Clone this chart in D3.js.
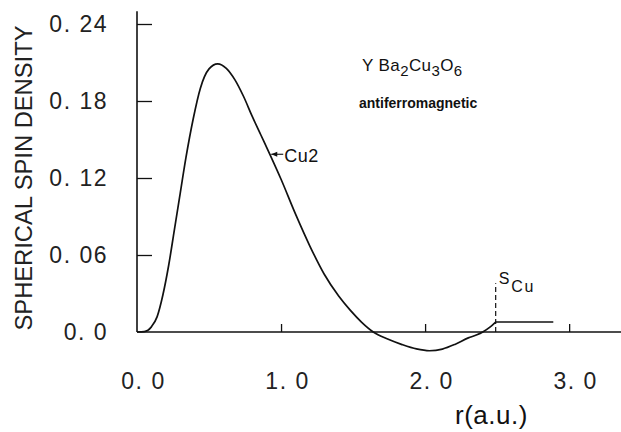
<!DOCTYPE html>
<html>
<head>
<meta charset="utf-8">
<script src="https://cdn.jsdelivr.net/npm/d3@7"></script>
<style>
  html, body { margin: 0; padding: 0; background: #fff; }
  svg { display: block; }
</style>
</head>
<body>
<svg id="chart" width="621" height="432"></svg>
<script>
// Radial distance r (a.u.) and spherical spin density of Cu2
const radius = [0, 0.05, 0.10, 0.14, 0.18, 0.22, 0.26, 0.30, 0.34, 0.39, 0.44, 0.50, 0.56, 0.62, 0.68, 0.74, 0.80, 0.86, 0.92,
                1.00, 1.10, 1.20, 1.30, 1.40, 1.48, 1.56, 1.64, 1.74, 1.84, 1.94, 2.03, 2.12, 2.21, 2.30, 2.36, 2.40, 2.45, 2.49];
const spinDensity = [0, 0.0003, 0.004, 0.012, 0.029, 0.052, 0.080, 0.108, 0.136, 0.166, 0.190, 0.205, 0.209, 0.2055, 0.1965, 0.1835, 0.168, 0.1535, 0.139,
                     0.119, 0.092, 0.067, 0.045, 0.028, 0.017, 0.0075, 0, -0.0055, -0.0098, -0.0132, -0.0146, -0.0133, -0.0095, -0.0046, -0.0022, 0, 0.0038, 0.0078];

// Integrated spin s_Cu: plateau beyond the sphere radius
const sphereRadius = 2.49;
const plateauEnd = 2.89;
const plateauValue = 0.0078;

// Axis ticks
const xTickValues = [0, 1, 2, 3];
const xTickLabels = ["0. 0", "1. 0", "2. 0", "3. 0"];
const yTickValues = [0, 0.06, 0.12, 0.18, 0.24];
const yTickLabels = ["0. 0", "0. 06", "0. 12", "0. 18", "0. 24"];

const svg = d3.select("#chart");
const ink = "#111";

const x = d3.scaleLinear().domain([0, 3.36]).range([137, 621]);
const y = d3.scaleLinear().domain([0, 0.24]).range([332, 24]);

// Axis lines
svg.append("line")
  .attr("x1", x(0)).attr("x2", x(0))
  .attr("y1", y(0)).attr("y2", y(0.25))
  .attr("stroke", ink).attr("stroke-width", 1.6);
svg.append("line")
  .attr("x1", x(0)).attr("x2", x(3.36))
  .attr("y1", y(0)).attr("y2", y(0))
  .attr("stroke", ink).attr("stroke-width", 1.4);

// Y axis: inward ticks, labels to the left
const yAxis = d3.axisLeft(y)
  .tickValues(yTickValues)
  .tickFormat((d, i) => yTickLabels[i])
  .tickSizeInner(-15).tickSizeOuter(0).tickPadding(29);
const gy = svg.append("g").attr("transform", `translate(${x(0)},0)`).call(yAxis);
gy.select(".domain").remove();
gy.selectAll(".tick").filter(d => d === 0).select("line").remove();
gy.selectAll(".tick line").attr("stroke", ink).attr("stroke-width", 1.3);
gy.selectAll(".tick text")
  .attr("fill", "#222")
  .style("font-family", "'Liberation Sans', Arial, sans-serif")
  .style("font-size", "23px")
  .style("letter-spacing", "1.5px");

// X axis: short upward ticks, labels below
const xAxis = d3.axisBottom(x)
  .tickValues(xTickValues)
  .tickFormat((d, i) => xTickLabels[i])
  .tickSizeInner(-8).tickSizeOuter(0).tickPadding(41);
const gx = svg.append("g").attr("transform", `translate(0,${y(0)})`).call(xAxis);
gx.select(".domain").remove();
gx.selectAll(".tick").filter(d => d === 0).select("line").remove();
gx.selectAll(".tick line").attr("stroke", ink).attr("stroke-width", 1.3);
gx.selectAll(".tick text")
  .attr("dx", 6)
  .attr("fill", "#222")
  .style("font-family", "'Liberation Sans', Arial, sans-serif")
  .style("font-size", "23px")
  .style("letter-spacing", "1.5px");

// Axis titles
svg.append("text")
  .attr("transform", `translate(32,178) rotate(-90)`)
  .attr("text-anchor", "middle")
  .attr("textLength", 305)
  .attr("lengthAdjust", "spacingAndGlyphs")
  .attr("fill", "#222")
  .style("font-family", "'Liberation Sans', Arial, sans-serif")
  .style("font-size", "23px")
  .text("SPHERICAL SPIN DENSITY");

svg.append("text")
  .attr("x", 455).attr("y", 424)
  .attr("fill", ink)
  .style("font-family", "'Liberation Sans', Arial, sans-serif")
  .style("font-size", "26px")
  .style("letter-spacing", "0.5px")
  .text("r(a.u.)");

// Spin density curve
const pts = radius.map((r, i) => [r, spinDensity[i]]);
const line = d3.line()
  .x(d => x(d[0]))
  .y(d => y(d[1]))
  .curve(d3.curveMonotoneX);
svg.append("path")
  .datum(pts)
  .attr("d", line)
  .attr("fill", "none")
  .attr("stroke", ink)
  .attr("stroke-width", 1.7);

// s_Cu plateau and dashed sphere boundary
svg.append("line")
  .attr("x1", x(sphereRadius)).attr("x2", x(plateauEnd))
  .attr("y1", y(plateauValue)).attr("y2", y(plateauValue))
  .attr("stroke", ink).attr("stroke-width", 1.3);
svg.append("line")
  .attr("x1", x(sphereRadius)).attr("x2", x(sphereRadius))
  .attr("y1", y(0)).attr("y2", y(0.038))
  .attr("stroke", ink).attr("stroke-width", 1.2)
  .attr("stroke-dasharray", "5,3");

const sLabel = svg.append("text")
  .attr("x", x(sphereRadius) + 3).attr("y", 284)
  .attr("fill", ink)
  .style("font-family", "'Liberation Sans', Arial, sans-serif")
  .style("font-size", "16px");
sLabel.append("tspan").text("S");
sLabel.append("tspan").attr("dx", 2).attr("dy", 8)
  .style("font-size", "16px").style("letter-spacing", "1.5px").text("Cu");

// Cu2 annotation with arrow
const tip = [0.925, 0.1385];
svg.append("line")
  .attr("x1", x(tip[0]) + 1).attr("x2", x(tip[0]) + 13)
  .attr("y1", y(tip[1])).attr("y2", y(tip[1]))
  .attr("stroke", ink).attr("stroke-width", 1.1);
svg.append("path")
  .attr("d", `M${x(tip[0]) + 1},${y(tip[1])} l6,-2.5 l0,5 z`)
  .attr("fill", ink);
svg.append("text")
  .attr("x", x(tip[0]) + 14).attr("y", y(tip[1]) + 8)
  .attr("fill", ink)
  .style("font-family", "'Liberation Sans', Arial, sans-serif")
  .style("font-size", "18px")
  .style("letter-spacing", "0.5px")
  .text("Cu2");

// Compound title
const title = svg.append("text")
  .attr("x", 362).attr("y", 71)
  .attr("fill", ink)
  .style("font-family", "'Liberation Sans', Arial, sans-serif")
  .style("font-size", "17px")
  .style("letter-spacing", "0.4px");
title.append("tspan").text("Y Ba");
title.append("tspan").attr("dy", 5).style("font-size", "15px").text("2");
title.append("tspan").attr("dy", -5).text("Cu");
title.append("tspan").attr("dy", 5).style("font-size", "15px").text("3");
title.append("tspan").attr("dy", -5).text("O");
title.append("tspan").attr("dy", 5).style("font-size", "15px").text("6");

svg.append("text")
  .attr("x", 359).attr("y", 108)
  .attr("fill", ink)
  .style("font-family", "'Liberation Sans', Arial, sans-serif")
  .style("font-size", "14px")
  .style("font-weight", "bold")
  .text("antiferromagnetic");
</script>
</body>
</html>
